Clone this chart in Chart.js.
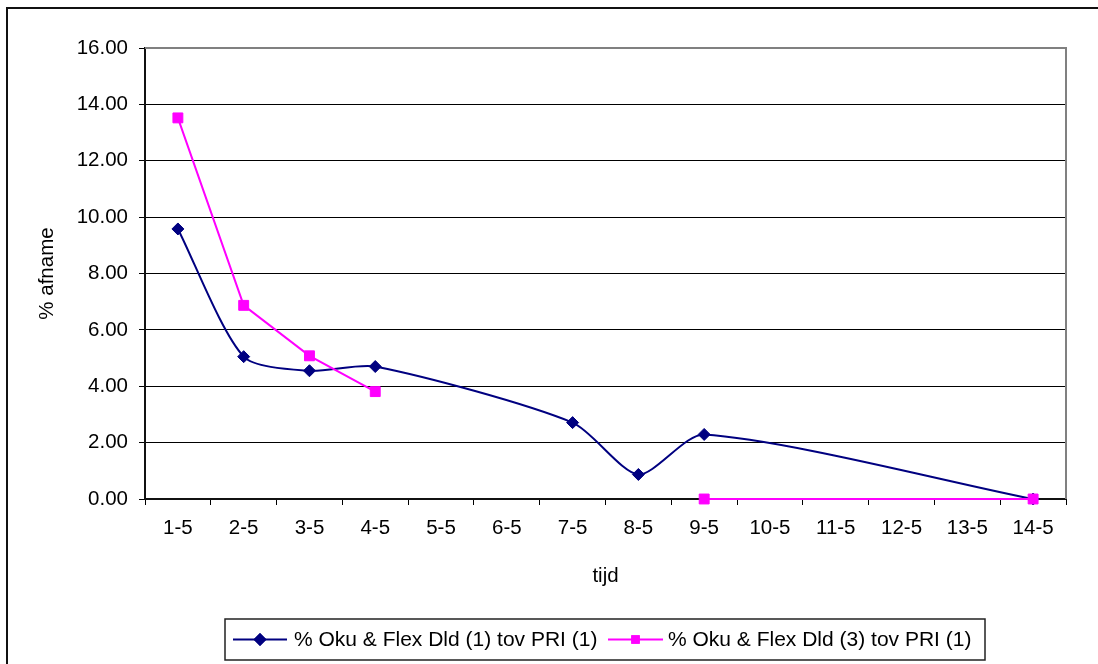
<!DOCTYPE html>
<html>
<head>
<meta charset="utf-8">
<script src="https://cdn.jsdelivr.net/npm/chart.js@4.4.1/dist/chart.umd.min.js"></script>
<style>
  html, body { margin: 0; padding: 0; background: #fff; }
  canvas { display: block; }
</style>
</head>
<body>
<canvas id="c" width="1098" height="664"></canvas>
<script>
// ---- data ----
const categories = ["1-5","2-5","3-5","4-5","5-5","6-5","7-5","8-5","9-5","10-5","11-5","12-5","13-5","14-5"];
const seriesNames = ["% Oku & Flex Dld (1) tov PRI (1)", "% Oku & Flex Dld (3) tov PRI (1)"];
const series1 = [9.58, 5.05, 4.55, 4.70, null, null, 2.71, 0.87, 2.29, null, null, null, null, 0.0];
const series2 = [13.52, 6.87, 5.08, 3.81, null, null, null, null, 0.0, null, null, null, null, 0.0];
const yTicks = [0, 2, 4, 6, 8, 10, 12, 14, 16];
// series 2 is drawn as two unconnected runs: up to index 3, and from index 8
const series2FirstRunEnd = 3;
const series2SecondRunStart = 8;

const FONT = "'Liberation Sans', Arial, sans-serif";
const NAVY = "#000080";
const MAGENTA = "#FF00FF";

const series2a = series2.map((v, i) => (i <= series2FirstRunEnd ? v : null));
const series2b = series2.map((v, i) => (i >= series2SecondRunStart ? v : null));

const framePlugin = {
  id: "frame",
  beforeDraw(chart) {
    const ctx = chart.ctx;
    ctx.save();
    ctx.fillStyle = "#fff";
    ctx.fillRect(0, 0, chart.width, chart.height);
    ctx.strokeStyle = "#111";
    ctx.lineWidth = 2;
    ctx.beginPath();
    ctx.moveTo(7, chart.height);
    ctx.lineTo(7, 8);
    ctx.lineTo(chart.width, 8);
    ctx.stroke();
    ctx.restore();
  },
  beforeDatasetsDraw(chart) {
    const a = chart.chartArea;
    const ctx = chart.ctx;
    ctx.save();
    ctx.strokeStyle = "#808080";
    ctx.lineWidth = 2;
    ctx.beginPath();
    ctx.moveTo(a.left, a.top);
    ctx.lineTo(a.right, a.top);
    ctx.lineTo(a.right, a.bottom);
    ctx.stroke();
    ctx.restore();
  },
  afterDraw(chart) {
    const ctx = chart.ctx;
    ctx.save();
    // legend box
    const bx = 225, by = 619, bw = 760, bh = 41;
    ctx.fillStyle = "#fff";
    ctx.fillRect(bx, by, bw, bh);
    ctx.strokeStyle = "#222";
    ctx.lineWidth = 1.5;
    ctx.strokeRect(bx, by, bw, bh);
    const cy = by + bh / 2;
    const items = [
      { x0: 233, x1: 287, color: NAVY, style: "rectRot", r: 6.5, tx: 294, text: seriesNames[0] },
      { x0: 608, x1: 663, color: MAGENTA, style: "rect", r: 6, tx: 668, text: seriesNames[1] }
    ];
    ctx.font = "21px " + FONT;
    ctx.textBaseline = "middle";
    ctx.textAlign = "left";
    for (const it of items) {
      ctx.strokeStyle = it.color;
      ctx.lineWidth = 2;
      ctx.beginPath();
      ctx.moveTo(it.x0, cy);
      ctx.lineTo(it.x1, cy);
      ctx.stroke();
      ctx.fillStyle = it.color;
      Chart.helpers.drawPoint(ctx, { pointStyle: it.style, radius: it.r, borderWidth: 0, rotation: 0 }, (it.x0 + it.x1) / 2, cy);
      ctx.fillStyle = it.color;
      ctx.fill();
      ctx.fillStyle = "#000";
      ctx.fillText(it.text, it.tx, cy + 1);
    }
    ctx.restore();
  }
};

function magentaDataset(data) {
  return {
    label: seriesNames[1],
    data: data,
    order: 0,
    borderColor: MAGENTA,
    backgroundColor: MAGENTA,
    borderWidth: 2,
    pointStyle: "rect",
    pointRadius: 7,
    pointBorderWidth: 1,
    pointBorderColor: MAGENTA,
    pointBackgroundColor: MAGENTA,
    tension: 0,
    spanGaps: true,
    fill: false,
    clip: 8
  };
}

new Chart(document.getElementById("c"), {
  type: "line",
  data: {
    labels: categories,
    datasets: [
      {
        label: seriesNames[0],
        data: series1,
        order: 1,
        borderColor: NAVY,
        backgroundColor: NAVY,
        borderWidth: 2,
        pointStyle: "rectRot",
        pointRadius: 6,
        pointBorderWidth: 1,
        pointBorderColor: NAVY,
        pointBackgroundColor: NAVY,
        tension: 0.25,
        spanGaps: true,
        fill: false,
        clip: 8
      },
      magentaDataset(series2a),
      magentaDataset(series2b)
    ]
  },
  options: {
    responsive: false,
    animation: false,
    devicePixelRatio: 1,
    events: [],
    layout: { padding: { top: 48, right: 32, bottom: 65, left: 0 } },
    plugins: {
      legend: { display: false },
      tooltip: { enabled: false },
      title: { display: false }
    },
    scales: {
      x: {
        type: "category",
        offset: true,
        afterFit(scale) { scale.height = 100; },
        grid: {
          offset: true,
          drawOnChartArea: false,
          drawTicks: true,
          tickLength: 6,
          color: "#000",
          lineWidth: 1
        },
        border: { display: true, color: "#111", width: 2 },
        ticks: {
          color: "#000",
          font: { family: FONT, size: 20.5 },
          padding: 11,
          maxRotation: 0,
          autoSkip: false
        },
        title: {
          display: true,
          text: "tijd",
          color: "#000",
          font: { family: FONT, size: 20.5 },
          padding: { top: 0, bottom: 10.5 }
        }
      },
      y: {
        min: 0,
        max: 16,
        afterFit(scale) { scale.width = 145; },
        afterBuildTicks(scale) { scale.ticks = yTicks.map(v => ({ value: v })); },
        grid: {
          drawTicks: true,
          tickLength: 6,
          color: "#000",
          lineWidth: 1
        },
        border: { display: true, color: "#111", width: 2 },
        ticks: {
          color: "#000",
          font: { family: FONT, size: 20.5 },
          padding: 11,
          callback: v => Number(v).toFixed(2)
        },
        title: {
          display: true,
          text: "% afname",
          color: "#000",
          font: { family: FONT, size: 20.5 },
          padding: { top: 35.5, bottom: 0 }
        }
      }
    }
  },
  plugins: [framePlugin]
});
</script>
</body>
</html>
